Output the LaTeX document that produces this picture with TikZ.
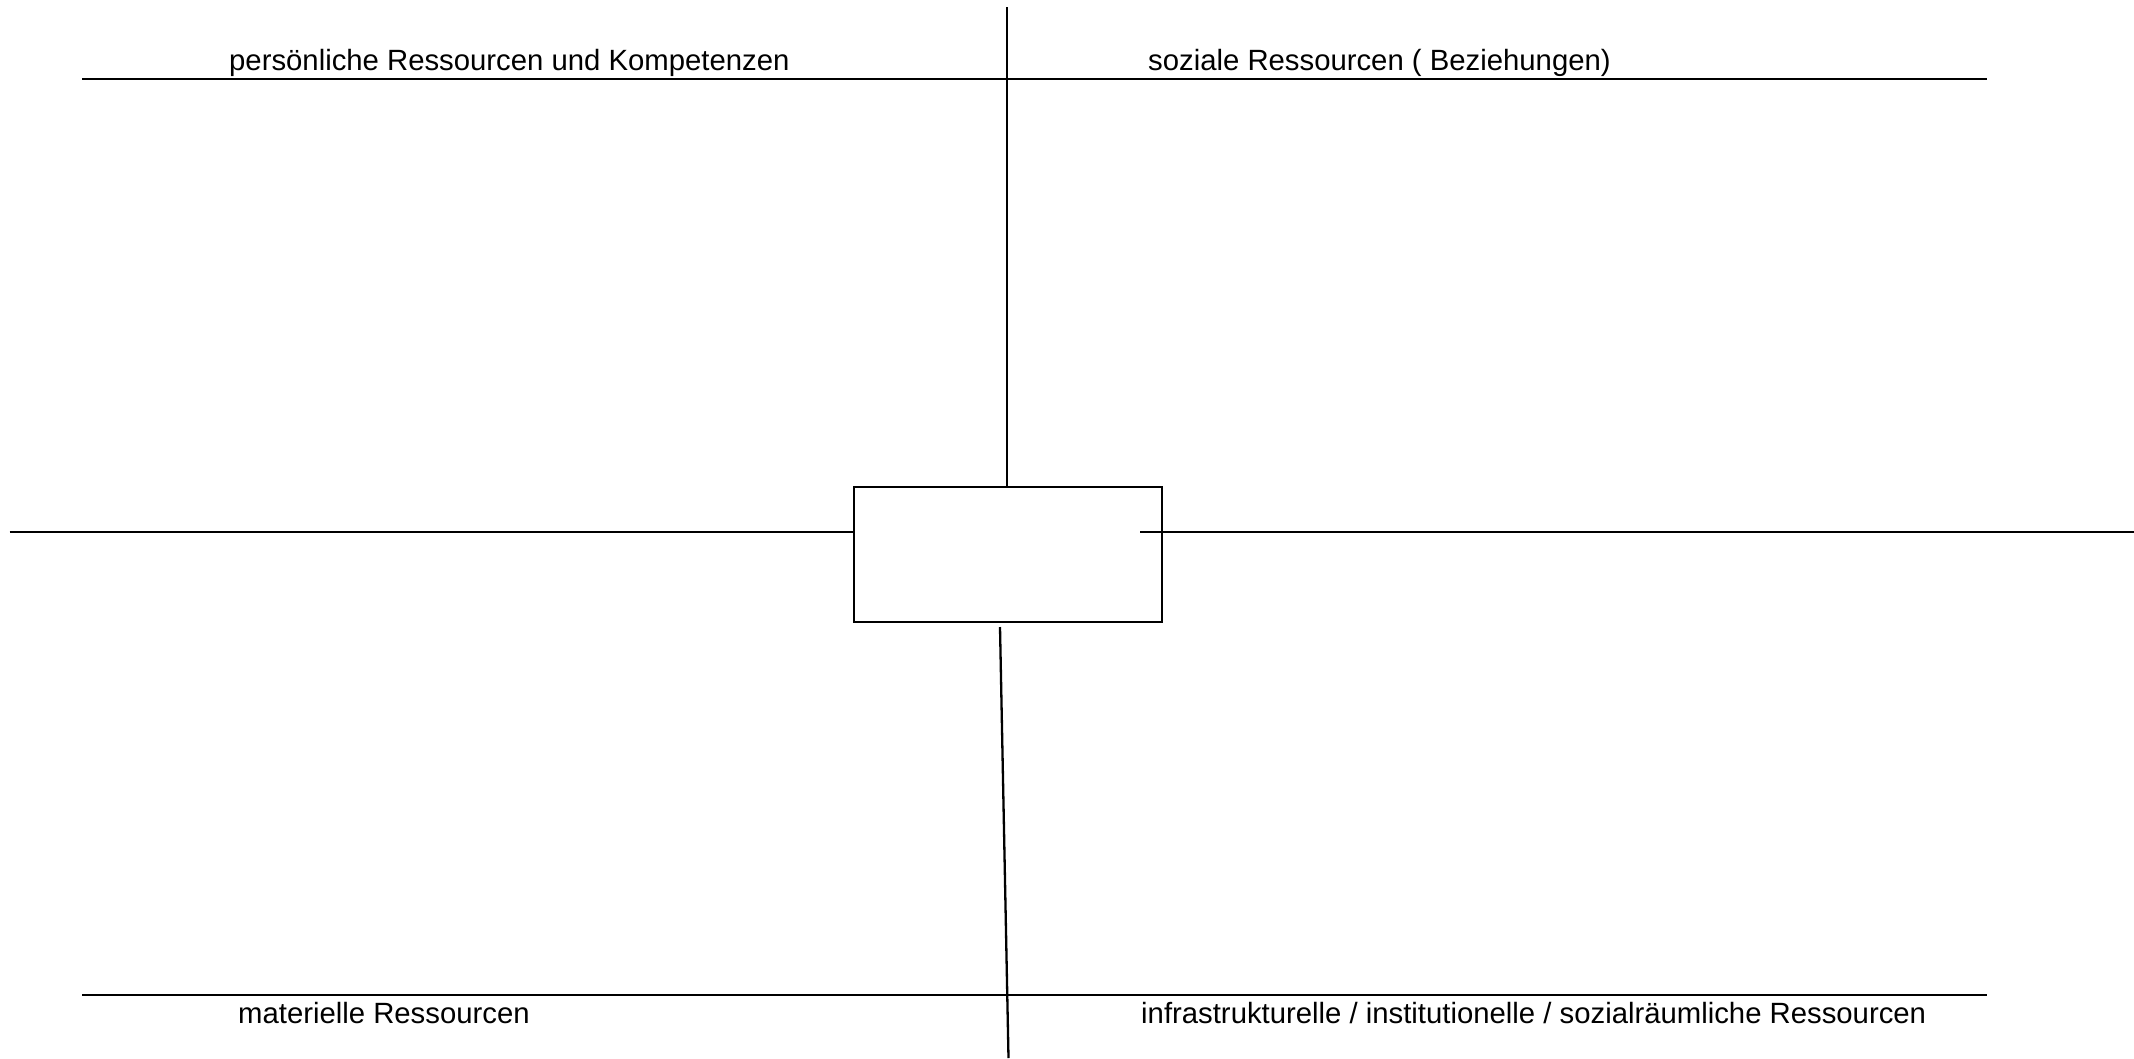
\documentclass[tikz,border=0pt]{standalone}
\usepackage{fontspec}
\setmainfont{Liberation Sans}
\begin{document}
\begin{tikzpicture}[x={(1pt,0)},y={(0,-1pt)},
  ln/.style={draw=black,line width=2.3pt},
  lbl/.style={anchor=base west,inner sep=0pt,font=\fontsize{29.3}{35}\selectfont}]
\useasboundingbox[fill=white] (0,0) rectangle (2134,1058);
% centre box
\node[ln,minimum width=308pt,minimum height=135pt,inner sep=0pt,anchor=north west] (box) at (853,486) {};
% guide lines
\coordinate (tl0) at (82,79);
\coordinate (tl1) at (1987,79);
\coordinate (bl0) at (82,995);
\coordinate (bl1) at (1987,995);
\coordinate (vtop) at (1007,7);
\coordinate (lh) at (9.5,532);
\coordinate (rh0) at (1140,532);
\coordinate (rh1) at (2134,532);
\coordinate (vb0) at (1000,627);
\coordinate (vb1) at (1008.5,1058);
\draw[ln] (tl0) -- (tl1);
\draw[ln] (bl0) -- (bl1);
\draw[ln] (vtop) -- (vtop |- box.north);
\draw[ln] (lh) -- (lh -| box.west);
\draw[ln] (rh0) -- (rh1);
\draw[ln] (vb0) -- (vb1);
% labels
\node[lbl] (t1) at (229,70) {persönliche Ressourcen und Kompetenzen};
\node[lbl] (t2) at (1148,70) {soziale Ressourcen ( Beziehungen)};
\node[lbl] (t3) at (238,1023) {materielle Ressourcen};
\node[lbl] (t4) at (1141,1023) {infrastrukturelle / institutionelle / sozialräumliche Ressourcen};
\end{tikzpicture}
\end{document}
